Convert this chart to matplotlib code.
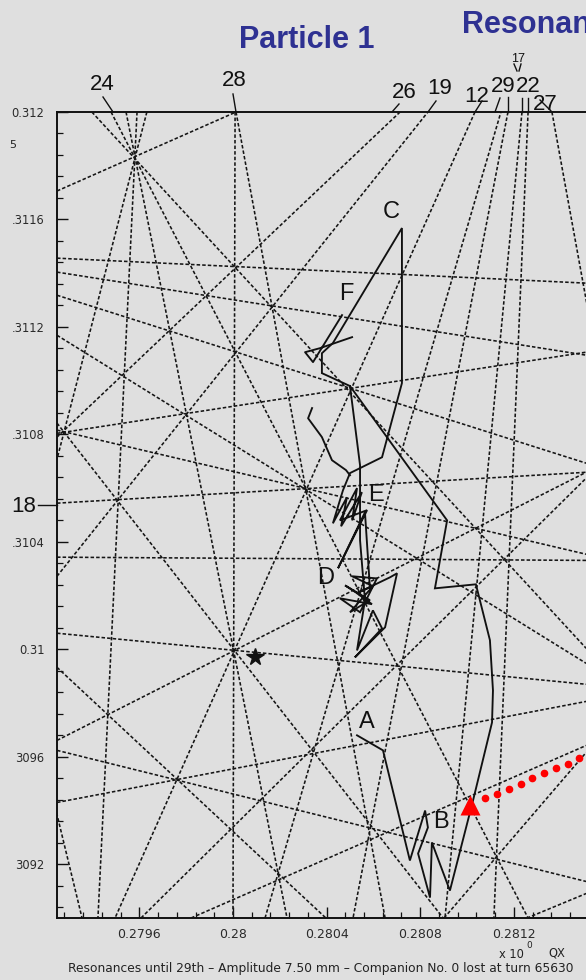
import matplotlib
matplotlib.use('Agg')
import matplotlib.pyplot as plt
from matplotlib import font_manager
import numpy as np

# resonance lines: (qx1, qy1, qx2, qy2)
res_lines = [
    (0.279397, 0.312000, 0.281509, 0.310004),
    (0.279248, 0.311706, 0.280013, 0.312000),
    (0.280009, 0.312000, 0.280000, 0.309000),
    (0.280013, 0.312000, 0.280650, 0.309000),
    (0.279632, 0.312000, 0.279248, 0.310708),
    (0.279590, 0.312000, 0.279423, 0.309000),
    (0.279543, 0.312000, 0.280231, 0.309000),
    (0.279479, 0.312000, 0.281261, 0.309000),
    (0.279248, 0.311456, 0.281509, 0.311363),
    (0.279248, 0.311404, 0.281509, 0.311095),
    (0.279248, 0.311318, 0.281509, 0.310693),
    (0.279248, 0.311169, 0.281509, 0.309948),
    (0.279248, 0.310804, 0.281509, 0.311106),
    (0.280714, 0.312000, 0.279248, 0.310790),
    (0.279248, 0.310842, 0.280906, 0.308991),
    (0.279248, 0.310816, 0.281509, 0.310354),
    (0.279248, 0.310544, 0.281509, 0.310659),
    (0.279248, 0.310272, 0.280833, 0.312000),
    (0.281034, 0.312000, 0.279496, 0.309000),
    (0.279248, 0.309661, 0.281509, 0.310659),
    (0.279248, 0.310060, 0.281509, 0.309870),
    (0.279248, 0.309933, 0.280397, 0.309000),
    (0.279248, 0.309430, 0.281509, 0.309806),
    (0.279248, 0.309624, 0.281509, 0.309136),
    (0.279607, 0.309000, 0.281509, 0.310637),
    (0.279821, 0.309000, 0.281509, 0.309642),
    (0.280137, 0.309000, 0.281145, 0.312000),
    (0.281175, 0.312000, 0.280513, 0.309000),
    (0.281235, 0.312000, 0.280906, 0.309000),
    (0.281261, 0.312000, 0.281115, 0.309000),
    (0.281363, 0.312000, 0.281654, 0.310607),
    (0.279248, 0.310343, 0.281509, 0.310331),
    (0.279218, 0.309493, 0.279355, 0.309000),
    (0.280902, 0.309000, 0.281509, 0.309616),
    (0.281013, 0.308912, 0.281509, 0.309091),
]

# tracked particle tune path
traj_qx = [0.280530, 0.280641, 0.280756, 0.280821, 0.280833, 0.280791, 0.280842, 0.280850,
           0.280927, 0.281026, 0.281107, 0.281111, 0.281098, 0.281038, 0.280863, 0.280915,
           0.280500, 0.280380, 0.280380, 0.280427, 0.280722, 0.280722, 0.280714, 0.280637,
           0.280500, 0.280470, 0.280427, 0.280487, 0.280462, 0.280551, 0.280509, 0.280530,
           0.280457, 0.280573, 0.280449, 0.280564, 0.280585, 0.280530, 0.280479, 0.280585,
           0.280500, 0.280598, 0.280509, 0.280615, 0.280543, 0.280457, 0.280594, 0.280530,
           0.280671, 0.280701, 0.280650, 0.280521, 0.280637, 0.280598, 0.280530, 0.280564,
           0.280543, 0.280543, 0.280500]
traj_qy = [0.309680, 0.309624, 0.309214, 0.309400, 0.309337, 0.309240, 0.309076, 0.309281,
           0.309102, 0.309438, 0.309728, 0.309847, 0.310034, 0.310242, 0.310227, 0.310480,
           0.310980, 0.311028, 0.311102, 0.311140, 0.311568, 0.310991, 0.310965, 0.310715,
           0.310656, 0.310592, 0.310469, 0.310566, 0.310458, 0.310585, 0.310480, 0.310600,
           0.310480, 0.310518, 0.310302, 0.310510, 0.310231, 0.310209, 0.310238, 0.310183,
           0.310138, 0.310235, 0.310272, 0.310264, 0.310138, 0.310190, 0.310168, 0.310209,
           0.310268, 0.310283, 0.310082, 0.309970, 0.310078, 0.310145, 0.309996, 0.310183,
           0.310406, 0.310685, 0.310980]
tail_qx = [0.280500, 0.280483, 0.280423, 0.280380, 0.280321, 0.280338, np.nan,
           0.280466, 0.280342, 0.280308, 0.280372, 0.280509]
tail_qy = [0.310648, 0.310667, 0.310704, 0.310790, 0.310860, 0.310898, np.nan,
           0.311244, 0.311069, 0.311106, 0.311121, 0.311162]

dots_qx = [0.281077, 0.281128, 0.281180, 0.281231, 0.281278, 0.281329, 0.281380, 0.281432, 0.281479, 0.281530]
dots_qy = [0.309445, 0.309460, 0.309479, 0.309497, 0.309520, 0.309538, 0.309557, 0.309575, 0.309594, 0.309613]
tri_q = (0.281013, 0.309419)
star_q = (0.280094, 0.309970)

xticks = [0.2796, 0.28, 0.2804, 0.2808, 0.2812]
xlabels = ['0.2796', '0.28', '0.2804', '0.2808', '0.2812']
yticks = [0.3092, 0.3096, 0.31, 0.3104, 0.3108, 0.3112, 0.3116, 0.312]
ylabels = ['3092', '3096', '0.31', '.3104', '.3108', '.3112', '.3116', '0.312']

installed = {f.name for f in font_manager.fontManager.ttflist}
narrow = 'Liberation Sans Narrow' if 'Liberation Sans Narrow' in installed else 'Liberation Sans'

bg = '#dfdfdf'
W, H = 586, 980
fig = plt.figure(figsize=(W / 100, H / 100), dpi=100, facecolor=bg)

def fx(px):
    return px / W

def fy(py):
    return 1 - py / H

ax = fig.add_axes([fx(57), fy(918), (607.4 - 57) / W, (918 - 112) / H])
ax.set_facecolor('none')
ax.set_xlim(0.279248, 0.2816)
ax.set_ylim(0.309, 0.312)

for x1, y1, x2, y2 in res_lines:
    ax.plot([x1, x2], [y1, y2], color='#151515', lw=1.15, ls=(0, (2.2, 1.3)))

ax.plot(traj_qx, traj_qy, color='#111111', lw=1.35, solid_joinstyle='miter')
ax.plot(tail_qx, tail_qy, color='#111111', lw=1.35)

ax.plot(dots_qx, dots_qy, 'o', color='#ff0000', ms=4.5, clip_on=False)
ax.plot([tri_q[0]], [tri_q[1]], '^', color='#ff0000', ms=15, mec='none')
ax.plot([star_q[0]], [star_q[1]], '*', color='#111111', ms=13)

for s in ['left', 'bottom', 'top', 'right']:
    ax.spines[s].set_linewidth(1.4)
    ax.spines[s].set_color('#111111')

ax.set_xticks(xticks)
ax.set_xticklabels(xlabels)
ax.set_yticks(yticks)
ax.set_yticklabels(ylabels)
ax.set_xticks(np.arange(0.27928, 0.2816, 0.00008), minor=True)
ax.set_yticks(np.arange(0.30904, 0.312, 0.00008), minor=True)
ax.tick_params(which='major', direction='in', length=8, width=1.0, color='#111111',
               labelcolor='#2a2a2a', pad=7)
ax.tick_params(which='minor', direction='in', length=4, width=0.9, color='#111111')
ax.tick_params(axis='x', which='major', labelsize=9)
ax.tick_params(axis='y', which='major', pad=9, labelsize=8.3)

# resonance order labels
order_labels = [('24', 102, 84), ('28', 234, 81), ('26', 404, 93), ('19', 440, 89),
                ('12', 477, 97), ('29', 503, 86), ('22', 528, 86), ('27', 545, 104),
                ('17', 518, 59), ('18', 24, 507)]
for t, px, py in order_labels:
    fig.text(fx(px), fy(py), t, fontsize=16 if t != '17' else 9, ha='center', va='center',
             family=narrow, color='#111111')

leaders = [((103, 97), (113, 112)), ((233, 94), (236, 112)), ((399, 104), (392, 112)),
           ((436, 101), (428, 112)), ((482, 101), (475, 112)), ((500, 98), (495, 112)),
           ((508, 97), (508, 112)), ((522, 98), (522, 112)), ((528, 98), (528, 112)),
           ((540, 100), (552, 112)), ((514, 64), (517, 71)), ((521, 64), (519, 71)),
           ((38, 505), (57, 505))]
for (xa, ya), (xb, yb) in leaders:
    fig.add_artist(plt.Line2D([fx(xa), fx(xb)], [fy(ya), fy(yb)], color='#111111', lw=1.0))

for t, px, py in [('A', 367, 722), ('B', 441, 822), ('C', 391, 212),
                  ('D', 326, 578), ('E', 376, 495), ('F', 346, 294)]:
    fig.text(fx(px), fy(py), t, fontsize=17, ha='center', va='center',
             family=narrow, color='#111111')

fig.text(fx(307), fy(40), 'Particle 1', fontsize=22, fontweight='bold', color='#2e3192',
         ha='center', va='center', family='Liberation Sans')
# cut at the right edge, as in the source picture
fig.text(fx(462), fy(25), 'Resonances', fontsize=22, fontweight='bold', color='#2e3192',
         ha='left', va='center', family='Liberation Sans')

fig.text(fx(13), fy(145), '5', fontsize=8, color='#222222', ha='center', va='center')
fig.text(fx(511), fy(954), 'x 10', fontsize=8.3, color='#222222', ha='center', va='center')
fig.text(fx(529), fy(945), '0', fontsize=6.5, color='#222222', ha='center', va='center')
fig.text(fx(557), fy(953), 'QX', fontsize=8.3, color='#222222', ha='center', va='center')
fig.text(fx(321), fy(968),
         'Resonances until 29th \u2013 Amplitude 7.50 mm \u2013 Companion No. 0 lost at turn 65630',
         fontsize=8.8, color='#222222', ha='center', va='center')

fig.savefig('out.png', dpi=100, facecolor=bg)
